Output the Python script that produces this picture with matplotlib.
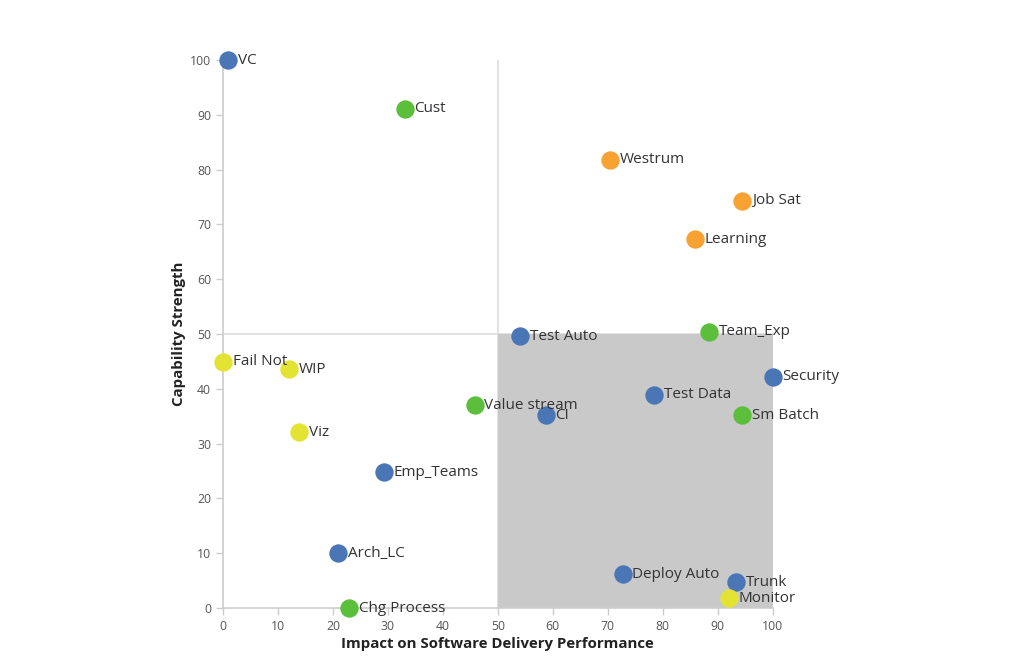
import matplotlib.pyplot as plt

plt.rcParams['font.family'] = ['Open Sans', 'DejaVu Sans']

names = ["VC", "Cust", "Westrum", "Job Sat", "Learning", "Team_Exp", "Test Auto",
         "Security", "Fail Not", "WIP", "Test Data", "Value stream", "CI", "Sm Batch",
         "Viz", "Emp_Teams", "Arch_LC", "Deploy Auto", "Trunk", "Monitor", "Chg Process"]
impact = [0.9, 33.1, 70.5, 94.5, 85.8, 88.4, 54.0,
          100.0, 0.0, 12.0, 78.5, 45.8, 58.7, 94.5,
          13.8, 29.3, 20.9, 72.7, 93.3, 92.0, 22.9]
strength = [100.0, 91.1, 81.8, 74.3, 67.3, 50.4, 49.6,
            42.2, 44.9, 43.6, 38.9, 37.0, 35.2, 35.2,
            32.1, 24.8, 10.0, 6.2, 4.7, 1.8, 0.0]
group = ["tech", "product", "culture", "culture", "culture", "product", "tech",
         "tech", "lean", "lean", "tech", "product", "tech", "product",
         "lean", "tech", "tech", "tech", "tech", "lean", "product"]

colors = {"tech": "#4a76b5", "product": "#5cbf3c", "culture": "#f7a233", "lean": "#e3e334"}

fig = plt.figure(figsize=(10.18, 6.65), dpi=100)
ax = fig.add_axes([0.219, 0.0857, 0.540, 0.824])

ax.set_xlim(0, 100)
ax.set_ylim(0, 100)

# quadrant shading and dividers
ax.fill_between([50, 100], 0, 50, color="#c9c9c9", lw=0, zorder=1)
ax.plot([50, 50], [0, 100], color="#dddddd", lw=1.2, zorder=0.5)
ax.plot([0, 100], [50, 50], color="#dddddd", lw=1.2, zorder=0.5)

for n, xv, yv, g in zip(names, impact, strength, group):
    ax.scatter(xv, yv, s=175, color=colors[g], zorder=3, clip_on=False, linewidths=0)
    ax.annotate(n, (xv, yv), xytext=(7, 0), textcoords="offset points",
                va="center", ha="left", fontsize=11, color="#333333", zorder=4)

for s in ["top", "right"]:
    ax.spines[s].set_visible(False)
for s in ["left", "bottom"]:
    ax.spines[s].set_color("#cccccc")
    ax.spines[s].set_linewidth(1.2)

ax.set_xticks(range(0, 101, 10))
ax.set_yticks(range(0, 101, 10))
ax.tick_params(colors="#cccccc", labelcolor="#555555", labelsize=8.8, length=5, width=1)

ax.set_xlabel("Impact on Software Delivery Performance", fontsize=10.8,
              fontweight="bold", color="#222222", labelpad=3)
ax.set_ylabel("Capability Strength", fontsize=10.8, fontweight="bold",
              color="#222222", labelpad=3)

fig.savefig("out.png", dpi=100)
